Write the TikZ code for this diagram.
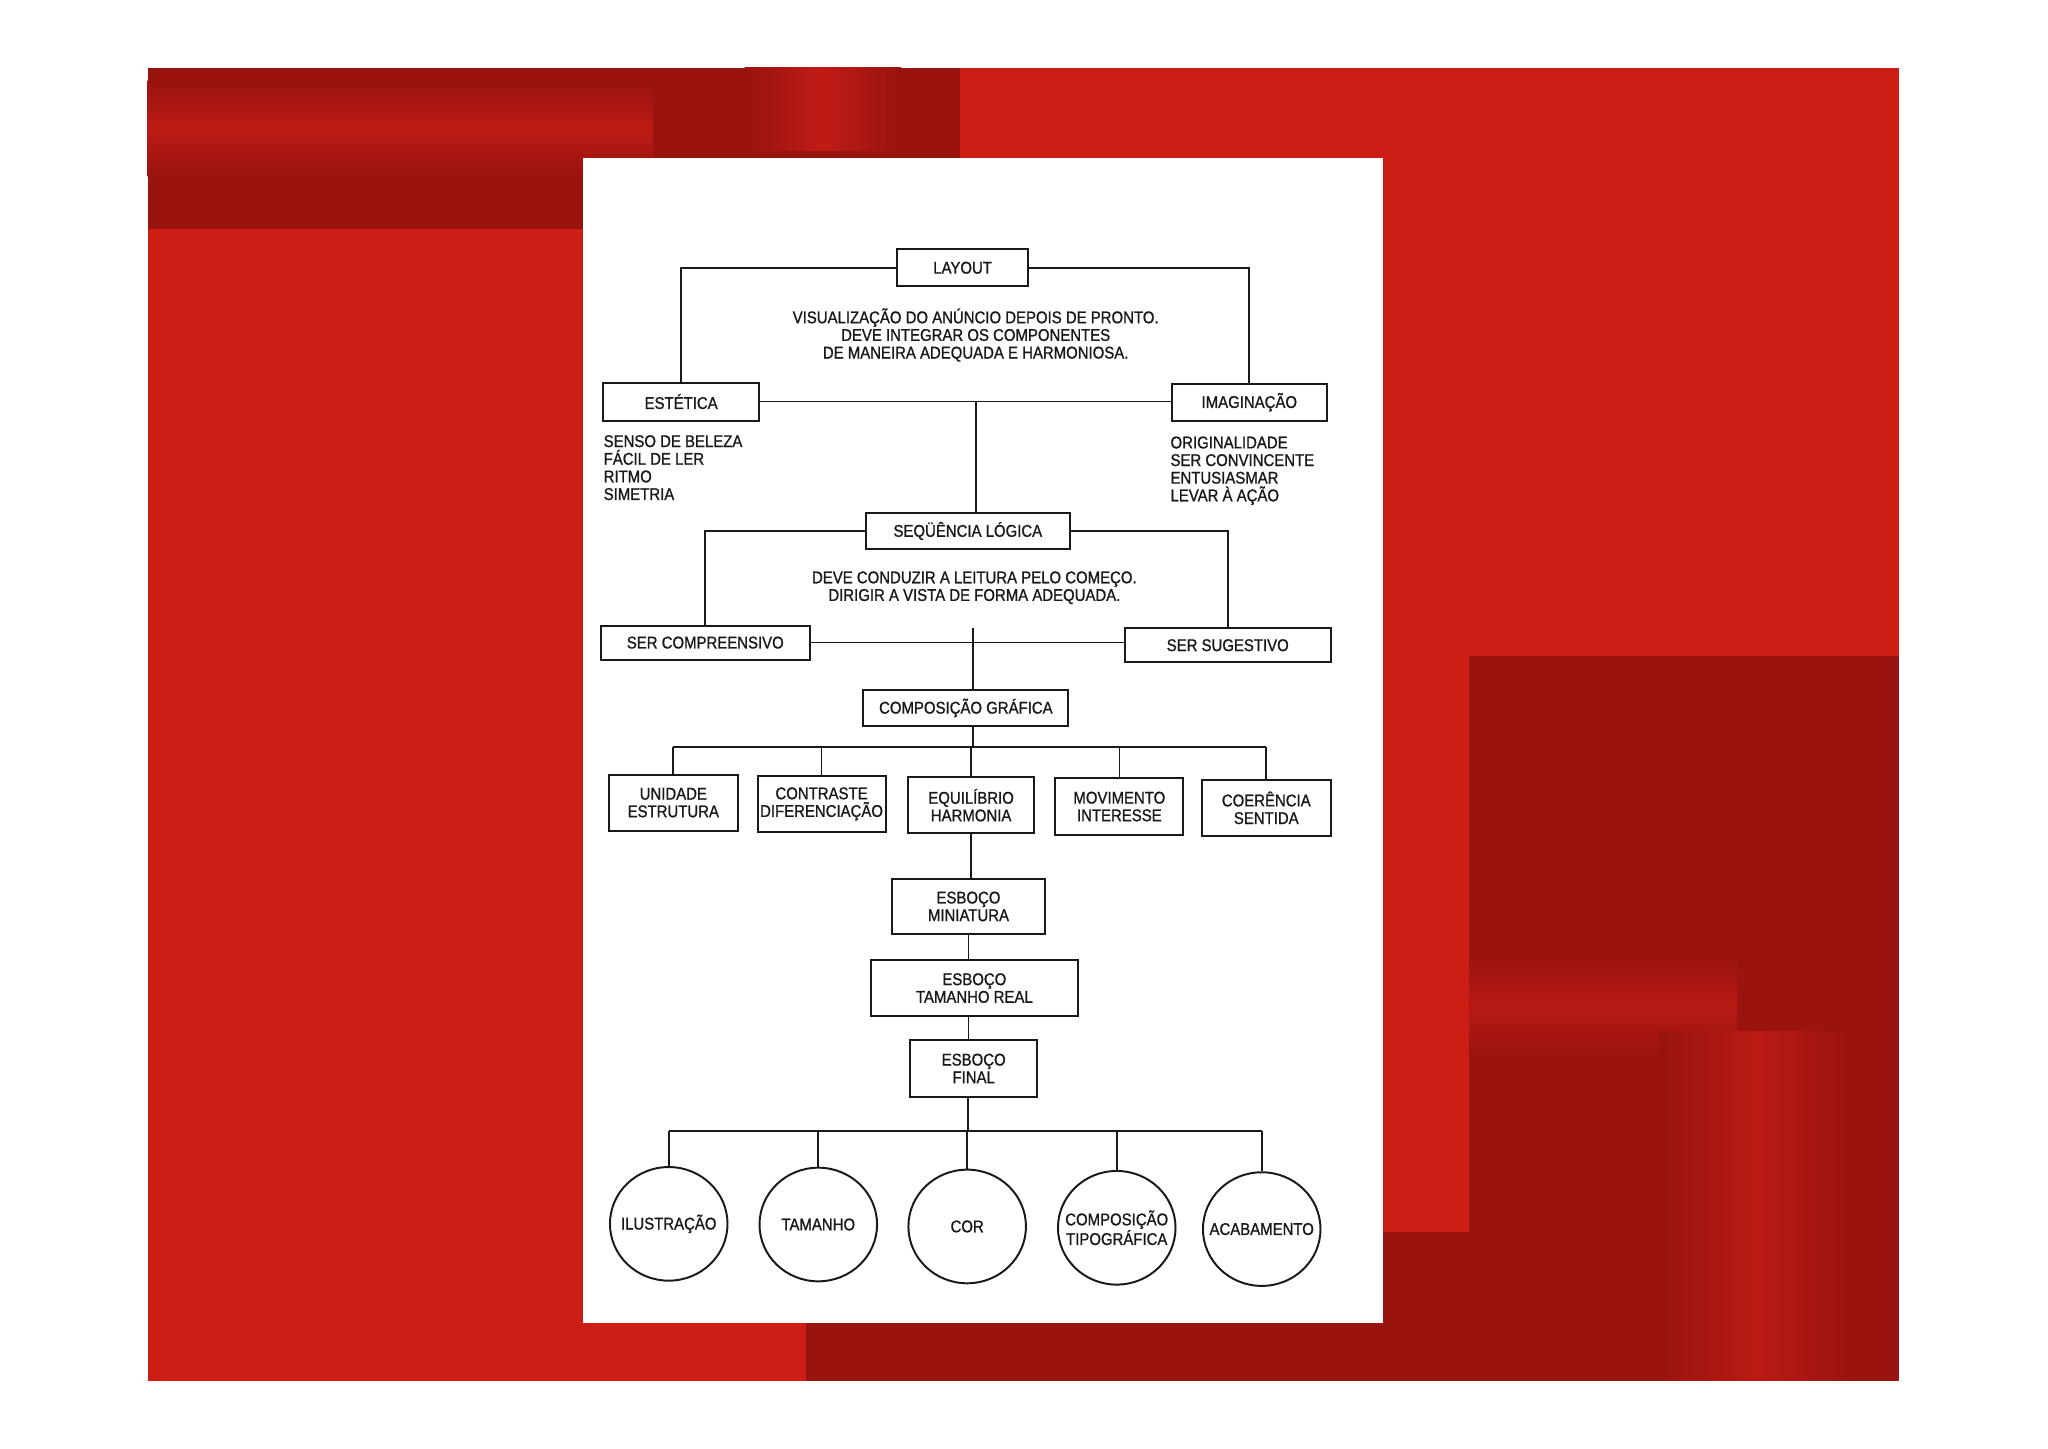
\documentclass[tikz,border=0pt]{standalone}
\usepackage{fontspec}
\setmainfont{Liberation Sans}[FakeStretch=0.88, FakeBold=1]
\usetikzlibrary{shapes.geometric}
\definecolor{redmain}{RGB}{205,30,22}
\definecolor{reddark}{RGB}{153,19,15}
\definecolor{ink}{RGB}{25,25,25}
\tikzset{
	box/.style={draw=ink, line width=1.5pt, inner sep=0pt, align=center, text=ink,
		font=\fontsize{13}{13.5}\selectfont},
	bub/.style={ellipse, draw=ink, line width=1.5pt, inner sep=0pt,
		minimum width=90pt, minimum height=87pt},
	txt/.style={inner sep=0pt, text=ink, font=\fontsize{13}{13.5}\selectfont},
	wire/.style={draw=ink, line width=1.3pt},
}
\begin{document}
\begin{tikzpicture}[x=1pt, y=-1pt]
	\useasboundingbox (0,0) rectangle (1568,1109);
	\fill[white] (0,0) rectangle (1568,1109);
	% background
	\fill[redmain] (113,52) rectangle (1454,1057);
	\fill[reddark] (113,52) rectangle (735,175);
	\shade[top color=reddark, bottom color=reddark, middle color=redmain!70!reddark] (113,62) rectangle (500,135);
	\shade[left color=reddark, right color=reddark, middle color=redmain!75!reddark] (570,52) rectangle (690,115);
	\fill[reddark] (1125,502) rectangle (1454,1057);
	\fill[reddark] (617,1013) rectangle (1454,1057);
	\fill[reddark] (1059,943) rectangle (1454,1057);
	\shade[top color=reddark, bottom color=reddark, middle color=redmain!60!reddark] (1125,730) rectangle (1330,810);
	\shade[left color=reddark, right color=reddark, middle color=redmain!65!reddark] (1270,790) rectangle (1420,1057);
	\fill[white] (446,121) rectangle (1059,1013);

	% boxes
	\node[box, minimum width=100pt, minimum height=28pt] at (737,205) (layout) {LAYOUT};
	\node[box, minimum width=119pt, minimum height=29pt] at (521.5,307.5) (estetica) {ESTÉTICA};
	\node[box, minimum width=119pt, minimum height=28pt] at (956.5,308) (imaginacao) {IMAGINAÇÃO};
	\node[box, minimum width=156pt, minimum height=27pt] at (741,406.5) (sequencia) {SEQÜÊNCIA LÓGICA};
	\node[box, minimum width=160pt, minimum height=26pt] at (540,492) (compreensivo) {SER COMPREENSIVO};
	\node[box, minimum width=158pt, minimum height=26pt] at (940,494) (sugestivo) {SER SUGESTIVO};
	\node[box, minimum width=157pt, minimum height=28pt] at (739.5,542) (composicao) {COMPOSIÇÃO GRÁFICA};
	\node[box, minimum width=99pt, minimum height=43pt] at (515.5,614.5) (unidade) {UNIDADE\\ESTRUTURA};
	\node[box, minimum width=98pt, minimum height=43pt] at (629,615.5) (contraste) {CONTRASTE\\DIFERENCIAÇÃO};
	\node[box, minimum width=97pt, minimum height=43pt] at (743.5,616.5) (equilibrio) {EQUILÍBRIO\\HARMONIA};
	\node[box, minimum width=98pt, minimum height=43pt] at (857,617.5) (movimento) {MOVIMENTO\\INTERESSE};
	\node[box, minimum width=99pt, minimum height=43pt] at (969.5,618.5) (coerencia) {COERÊNCIA\\SENTIDA};
	\node[box, minimum width=117pt, minimum height=42pt] at (741.5,694) (miniatura) {ESBOÇO\\MINIATURA};
	\node[box, minimum width=158pt, minimum height=43pt] at (746,756.5) (tamreal) {ESBOÇO\\TAMANHO REAL};
	\node[box, minimum width=97pt, minimum height=44pt] at (745.5,818) (final) {ESBOÇO\\FINAL};
	\node[bub, label={[txt]center:ILUSTRAÇÃO}] at (512,937) (ilustracao) {};
	\node[bub, label={[txt]center:TAMANHO}] at (626.5,937.5) (tamanho) {};
	\node[bub, label={[txt]center:COR}] at (740.5,939) (cor) {};
	\node[bub, label={[txt, align=center]center:{COMPOSIÇÃO\\TIPOGRÁFICA}}] at (855,940) (tipografica) {};
	\node[bub, label={[txt]center:ACABAMENTO}] at (966,941) (acabamento) {};

	% texts
	\node[txt, align=center] at (747,256.5) (visual) {VISUALIZAÇÃO DO ANÚNCIO DEPOIS DE PRONTO.\\DEVE INTEGRAR OS COMPONENTES\\DE MANEIRA ADEQUADA E HARMONIOSA.};
	\node[txt, align=left, anchor=north west] at (462,333) (beleza) {SENSO DE BELEZA\\FÁCIL DE LER\\RITMO\\SIMETRIA};
	\node[txt, align=left, anchor=north west] at (896,334) (original) {ORIGINALIDADE\\SER CONVINCENTE\\ENTUSIASMAR\\LEVAR À AÇÃO};
	\node[txt, align=center] at (746,450) (conduz) {DEVE CONDUZIR A LEITURA PELO COMEÇO.\\DIRIGIR A VISTA DE FORMA ADEQUADA.};

	% connectors
	\coordinate (stub) at (745,481);
	\coordinate (bus1) at (744,572);
	\coordinate (bus2) at (741,866);
	\draw[wire] (layout.west) -| (estetica.north);
	\draw[wire] (layout.east) -| (imaginacao.north);
	\draw[wire] (estetica.east) -- (estetica.east -| imaginacao.west);
	\draw[wire] (sequencia.north -| 747,0) -- (estetica.east -| 747,0);
	\draw[wire] (sequencia.west) -| (compreensivo.north);
	\draw[wire] (sequencia.east) -| (sugestivo.north);
	\draw[wire] (compreensivo.east) -- (compreensivo.east -| sugestivo.west);
	\draw[wire] (stub) -- (stub |- composicao.north);
	\draw[wire] (stub |- composicao.south) -- (stub |- bus1);
	\draw[wire] (unidade.north |- bus1) -- (coerencia.north |- bus1);
	\draw[wire] (unidade.north) -- (unidade.north |- bus1);
	\draw[wire] (contraste.north) -- (contraste.north |- bus1);
	\draw[wire] (equilibrio.north) -- (equilibrio.north |- bus1);
	\draw[wire] (movimento.north) -- (movimento.north |- bus1);
	\draw[wire] (coerencia.north) -- (coerencia.north |- bus1);
	\draw[wire] (equilibrio.south) -- (equilibrio.south |- miniatura.north);
	\draw[wire] (miniatura.south) -- (miniatura.south |- tamreal.north);
	\draw[wire] (miniatura.south |- tamreal.south) -- (miniatura.south |- final.north);
	\draw[wire] (bus2 |- final.south) -- (bus2);
	\draw[wire] (ilustracao.north |- bus2) -- (acabamento.north |- bus2);
	\draw[wire] (ilustracao.north) -- (ilustracao.north |- bus2);
	\draw[wire] (tamanho.north) -- (tamanho.north |- bus2);
	\draw[wire] (cor.north) -- (cor.north |- bus2);
	\draw[wire] (tipografica.north) -- (tipografica.north |- bus2);
	\draw[wire] (acabamento.north) -- (acabamento.north |- bus2);
\end{tikzpicture}
\end{document}
